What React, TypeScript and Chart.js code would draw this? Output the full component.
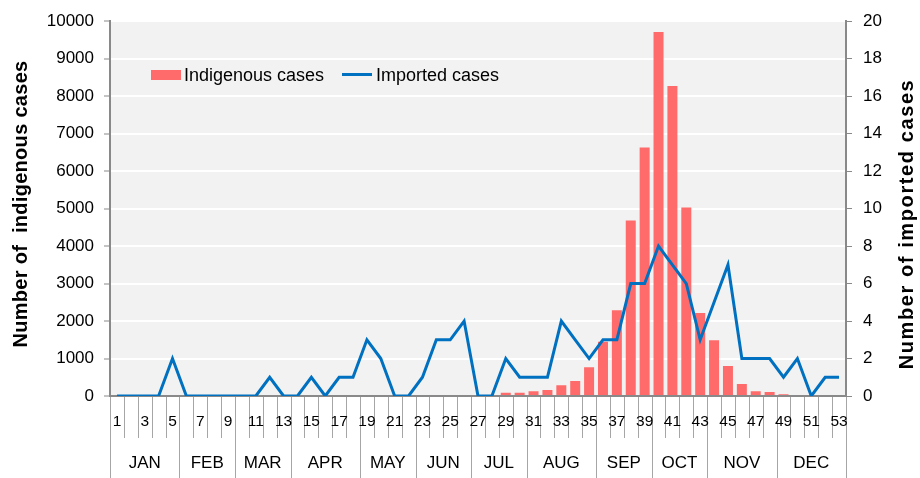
import React, { useEffect, useRef } from 'react';
import { Chart, registerables } from 'chart.js';

Chart.register(...registerables);

const weekLabels = ['1','2','3','4','5','6','7','8','9','10','11','12','13','14','15','16','17','18','19','20','21','22','23','24','25','26','27','28','29','30','31','32','33','34','35','36','37','38','39','40','41','42','43','44','45','46','47','48','49','50','51','52','53'];
const monthNames = ['JAN','FEB','MAR','APR','MAY','JUN','JUL','AUG','SEP','OCT','NOV','DEC'];
const monthWeekCounts = [5, 4, 4, 5, 4, 4, 4, 5, 4, 4, 5, 5];

const indigenousCases = [
  0, 0, 0, 0, 0, 0, 0, 0, 0, 0,
  0, 0, 0, 0, 0, 0, 0, 0, 0, 0,
  0, 0, 0, 0, 0, 0, 0, 0, 90, 90,
  130, 160, 290, 400, 770, 1450, 2290, 4680, 6630, 9710,
  8270, 5030, 2215, 1490, 800, 320, 130, 105, 50, 0,
  0, 0, 0,
];
const importedCases = [
  0, 0, 0, 0, 2, 0, 0, 0, 0, 0,
  0, 1, 0, 0, 1, 0, 1, 1, 3, 2,
  0, 0, 1, 3, 3, 4, 0, 0, 2, 1,
  1, 1, 4, 3, 2, 3, 3, 6, 6, 8,
  7, 6, 3, 5, 7, 2, 2, 2, 1, 2,
  0, 1, 1,
];

const leftMax = 10000;
const leftStep = 1000;
const rightMax = 20;
const rightStep = 2;

const FONT = "'Liberation Sans', Arial, sans-serif";
const BAR_COLOR = 'rgb(255,107,107)';
const LINE_COLOR = '#0070C0';
const AXIS_COLOR = '#898989';
const TICK_LINE = '#a6a6a6';

const decorPlugin = {
  id: 'decor',
  beforeDraw(chart: any) {
    const { ctx, chartArea: ca } = chart;
    ctx.save();
    ctx.fillStyle = '#F2F2F2';
    ctx.fillRect(ca.left, ca.top, ca.right - ca.left, ca.bottom - ca.top);
    ctx.restore();
  },
  afterDraw(chart: any) {
    const { ctx, chartArea: ca } = chart;
    const x = chart.scales.x;
    const step = x.getPixelForValue(1) - x.getPixelForValue(0);
    const H = chart.height;
    ctx.save();
    const monthBounds = new Set<number>();
    let acc = 0;
    monthBounds.add(0);
    monthWeekCounts.forEach((c) => { acc += c; monthBounds.add(acc); });
    ctx.strokeStyle = TICK_LINE;
    ctx.lineWidth = 1;
    for (let i = 0; i <= weekLabels.length; i++) {
      const px = Math.round(x.getPixelForValue(i) - step / 2) + 0.5;
      const bottom = monthBounds.has(i) ? H : ca.bottom + 42;
      ctx.beginPath();
      ctx.moveTo(px, ca.bottom + 1);
      ctx.lineTo(px, bottom);
      ctx.stroke();
    }
    ctx.fillStyle = '#000';
    ctx.font = `15.5px ${FONT}`;
    ctx.textAlign = 'center';
    ctx.textBaseline = 'middle';
    weekLabels.forEach((w, i) => {
      if (i % 2 === 0) ctx.fillText(w, x.getPixelForValue(i), ca.bottom + 26);
    });
    ctx.font = `17px ${FONT}`;
    let start = 0;
    monthWeekCounts.forEach((c, m) => {
      const l = x.getPixelForValue(start) - step / 2;
      const r = x.getPixelForValue(start + c - 1) + step / 2;
      ctx.fillText(monthNames[m], (l + r) / 2, ca.bottom + 67);
      start += c;
    });
    ctx.font = `bold 20px ${FONT}`;
    ctx.textBaseline = 'alphabetic';
    ctx.save();
    ctx.translate(27, 204);
    ctx.rotate(-Math.PI / 2);
    (ctx as any).letterSpacing = '0.3px';
    ctx.fillText('Number of  indigenous cases', 0, 0);
    ctx.restore();
    ctx.save();
    ctx.translate(913, 224);
    ctx.rotate(-Math.PI / 2);
    (ctx as any).letterSpacing = '1.6px';
    ctx.fillText('Number of imported cases', 0, 0);
    ctx.restore();
    (ctx as any).letterSpacing = '0px';
    ctx.textAlign = 'left';
    ctx.font = `18px ${FONT}`;
    ctx.fillStyle = BAR_COLOR;
    ctx.fillRect(151, 70, 30, 10);
    ctx.fillStyle = '#000';
    ctx.fillText('Indigenous cases', 184, 81);
    ctx.strokeStyle = LINE_COLOR;
    ctx.lineWidth = 3;
    ctx.beginPath();
    ctx.moveTo(342, 74.5);
    ctx.lineTo(372, 74.5);
    ctx.stroke();
    ctx.fillText('Imported cases', 376, 81);
    ctx.restore();
  },
};

export default function App() {
  const ref = useRef<HTMLCanvasElement | null>(null);
  useEffect(() => {
    if (!ref.current) return;
    const chart = new Chart(ref.current, {
      type: 'bar',
      data: {
        labels: weekLabels,
        datasets: [
          {
            type: 'line',
            label: 'Imported cases',
            data: importedCases,
            yAxisID: 'y1',
            borderColor: LINE_COLOR,
            backgroundColor: LINE_COLOR,
            borderWidth: 3,
            pointRadius: 0,
            tension: 0,
            order: 0,
          } as any,
          {
            type: 'bar',
            label: 'Indigenous cases',
            data: indigenousCases,
            yAxisID: 'y',
            backgroundColor: BAR_COLOR,
            barPercentage: 0.72,
            categoryPercentage: 1,
            order: 1,
          },
        ],
      },
      options: {
        animation: false,
        responsive: true,
        maintainAspectRatio: false,
        layout: { padding: { top: 20, left: 0, right: 0, bottom: 0 } },
        plugins: { legend: { display: false }, tooltip: { enabled: false } },
        scales: {
          x: {
            offset: true,
            grid: { display: false },
            border: { display: true, color: AXIS_COLOR, width: 2 },
            ticks: { display: false },
            afterFit: (s: any) => { s.height = 82; },
          },
          y: {
            position: 'left',
            min: 0,
            max: leftMax,
            ticks: {
              stepSize: leftStep,
              color: '#000',
              padding: 10,
              font: { family: FONT, size: 17 },
              callback: (v: any) => String(v),
            },
            grid: {
              color: (c: any) => (c.tick && c.tick.value === 0 ? 'rgba(0,0,0,0)' : '#ffffff'),
              lineWidth: 2,
              tickColor: AXIS_COLOR,
              tickLength: 6,
              tickWidth: 1,
            },
            border: { color: AXIS_COLOR, width: 2 },
            afterFit: (s: any) => { s.width = 110; },
          },
          y1: {
            position: 'right',
            min: 0,
            max: rightMax,
            ticks: {
              stepSize: rightStep,
              color: '#000',
              padding: 11,
              font: { family: FONT, size: 17 },
              callback: (v: any) => String(v),
            },
            grid: {
              drawOnChartArea: false,
              tickColor: AXIS_COLOR,
              tickLength: 6,
              tickWidth: 1,
            },
            border: { color: AXIS_COLOR, width: 2 },
            afterFit: (s: any) => { s.width = 74; },
          },
        },
      },
      plugins: [decorPlugin],
    });
    return () => chart.destroy();
  }, []);
  return (
    <div style={{ position: 'fixed', left: 0, top: 0, width: 920, height: 478 }}>
      <canvas ref={ref} />
    </div>
  );
}
